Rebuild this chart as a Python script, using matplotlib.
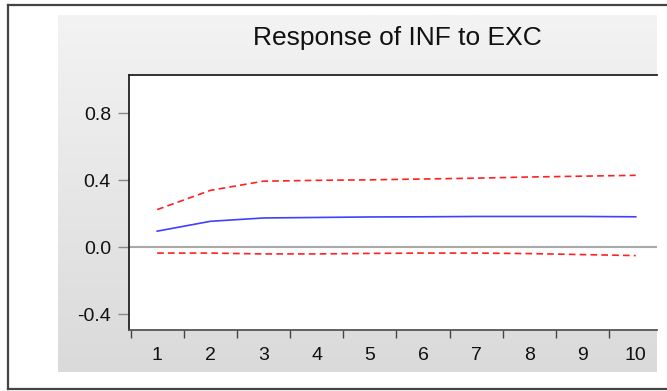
import numpy as np
import matplotlib
matplotlib.use("Agg")
import matplotlib.pyplot as plt
from matplotlib.lines import Line2D

periods = [1, 2, 3, 4, 5, 6, 7, 8, 9, 10]
response = [0.096, 0.155, 0.175, 0.178, 0.181, 0.182, 0.184, 0.184, 0.184, 0.182]
upper = [0.225, 0.340, 0.395, 0.400, 0.403, 0.408, 0.413, 0.420, 0.425, 0.430]
lower = [-0.035, -0.035, -0.040, -0.040, -0.037, -0.035, -0.035, -0.038, -0.044, -0.050]
yticks = [-0.4, 0.0, 0.4, 0.8]
title = "Response of INF to EXC"

plt.rcParams['font.family'] = ['Liberation Sans', 'DejaVu Sans']

W, H = 667, 391
fig = plt.figure(figsize=(W / 100, H / 100), dpi=100)
fig.patch.set_facecolor('white')

def fx(x):
    return x / W

def fy(y):
    return 1 - y / H

# outer frame
for (xs, ys) in [([8, 8], [5, 389]), ([8, 667], [5, 5]), ([8, 667], [389, 389])]:
    fig.add_artist(Line2D([fx(v) for v in xs], [fy(v) for v in ys],
                          color='#444444', lw=1.6, transform=fig.transFigure))

# gray gradient panel
pax = fig.add_axes([fx(58), fy(372), fx(657 - 58), (372 - 15) / H])
grad = np.linspace(0, 1, 256).reshape(-1, 1)
pax.imshow(grad, aspect='auto', cmap=matplotlib.colors.LinearSegmentedColormap.from_list(
    'g', ['#f3f3f3', '#dadada']), extent=[0, 1, 0, 1], origin='upper')
pax.set_axis_off()

ax = fig.add_axes([fx(129), fy(330), fx(657 - 129), (330 - 75) / H])
ax.set_facecolor('white')
ax.axhline(0, color='#a8a8a8', lw=1.5, zorder=1)
ax.plot(periods, response, color='#4040ff', lw=1.2, zorder=3)
ax.plot(periods, upper, color='#ff2020', lw=1.2, ls=(0, (4, 2.5)), zorder=3)
ax.plot(periods, lower, color='#ff2020', lw=1.2, ls=(0, (4, 2.5)), zorder=3)

ax.set_xlim(0.47, 10.4)
ax.set_ylim(-0.495, 1.03)
ax.set_yticks(yticks)
ax.set_yticklabels(['%.1f' % v for v in yticks])
ax.set_xticks(periods)
ax.set_xticklabels([str(p) for p in periods])
ax.set_xticks([p - 0.5 for p in periods], minor=True)
ax.tick_params(axis='x', which='major', length=0, pad=12, labelsize=14, labelcolor='#111111')
ax.tick_params(axis='x', which='minor', length=6, width=1, color='#444444', direction='out')
ax.tick_params(axis='y', which='major', length=8, width=1, color='#888888', direction='out',
               pad=5, labelsize=14, labelcolor='#111111')

for s in ['right']:
    ax.spines[s].set_visible(False)
ax.spines['left'].set_color('#222222')
ax.spines['top'].set_color('#222222')
ax.spines['bottom'].set_color('#555555')
for s in ['left', 'top', 'bottom']:
    ax.spines[s].set_linewidth(1.3)

fig.text(fx(397), fy(38.5), title, ha='center', va='center', fontsize=19, color='#111111')

fig.savefig('out.png', dpi=100)
